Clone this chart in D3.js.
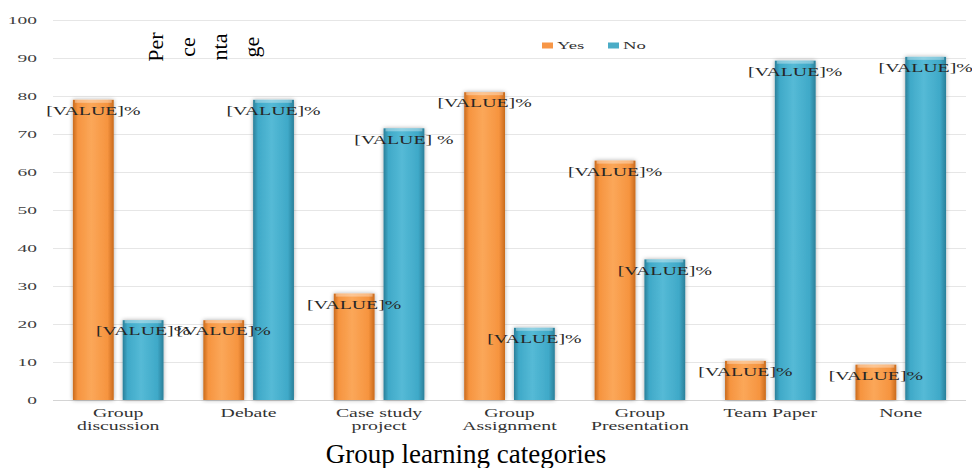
<!DOCTYPE html>
<html>
<head>
<meta charset="utf-8">
<script src="https://cdn.jsdelivr.net/npm/d3@7/dist/d3.min.js"></script>
<style>
  html, body { margin: 0; padding: 0; background: #ffffff; }
  svg { display: block; }
</style>
</head>
<body>
<svg id="chart" width="972" height="468" font-family="'Liberation Serif', 'Times New Roman', Times, serif"></svg>
<script>
// Survey responses by group learning category (percent)
const categories = ["Group discussion", "Debate", "Case study project", "Group Assignment",
                    "Group Presentation", "Team Paper", "None"];
const categoryLines = [["Group", "discussion"], ["Debate"], ["Case study", "project"],
                       ["Group", "Assignment"], ["Group", "Presentation"], ["Team Paper"], ["None"]];
const seriesNames = ["Yes", "No"];
const yesValues = [79, 21, 28, 81, 63, 10.3, 9.3];
const noValues  = [21, 79, 71.5, 19, 37, 89.3, 90.3];
const labelTexts = {
  Yes: ["[VALUE]%", "[VALUE]%", "[VALUE]%", "[VALUE]%", "[VALUE]%", "[VALUE]%", "[VALUE]%"],
  No:  ["[VALUE]%", "[VALUE]%", "[VALUE] %", "[VALUE]%", "[VALUE]%", "[VALUE]%", "[VALUE]%"]
};
const yTicks = [0, 10, 20, 30, 40, 50, 60, 70, 80, 90, 100];
const yTitleParts = ["Per", "ce", "nta", "ge"];
const xTitle = "Group learning categories";

const SERIF = "'Liberation Serif', 'Times New Roman', Times, serif";
const svg = d3.select("#chart");
const defs = svg.append("defs");

// Horizontal shading gives the bars their rounded, bevelled look
function barGradient(id, edge, mid, light) {
  const g = defs.append("linearGradient").attr("id", id)
    .attr("x1", "0%").attr("x2", "100%").attr("y1", "0%").attr("y2", "0%");
  g.append("stop").attr("offset", "0%").attr("stop-color", edge);
  g.append("stop").attr("offset", "12%").attr("stop-color", mid);
  g.append("stop").attr("offset", "45%").attr("stop-color", light);
  g.append("stop").attr("offset", "85%").attr("stop-color", mid);
  g.append("stop").attr("offset", "100%").attr("stop-color", edge);
}
barGradient("grad-Yes", "#c96a1c", "#f6943f", "#fba759");
barGradient("grad-No", "#2a7f99", "#3fa9c8", "#55bad6");
const shadow = defs.append("filter").attr("id", "barShadow")
  .attr("x", "-30%").attr("y", "-5%").attr("width", "160%").attr("height", "110%");
shadow.append("feDropShadow").attr("dx", 0).attr("dy", 0).attr("stdDeviation", 2.2)
  .attr("flood-color", "#000").attr("flood-opacity", 0.35);

const y = d3.scaleLinear().domain([0, 100]).range([400, 20]);
const x = d3.scaleBand().domain(categories).range([53, 966]).paddingInner(0).paddingOuter(0);
const xSub = d3.scaleBand().domain(seriesNames).range([0, x.bandwidth()])
  .paddingInner(0.18).paddingOuter(0.4);
const color = d3.scaleOrdinal().domain(seriesNames).range(["#f79646", "#4bacc6"]);

// Stretch a text element horizontally by factor k
function widen(sel, k) {
  sel.each(function () {
    const w = this.getComputedTextLength();
    d3.select(this).attr("textLength", w * k).attr("lengthAdjust", "spacingAndGlyphs");
  });
}

// Gridlines
svg.append("g").selectAll("line").data(yTicks.filter(d => d > 0)).join("line")
  .attr("x1", 53).attr("x2", 966)
  .attr("y1", d => y(d) + 0.5).attr("y2", d => y(d) + 0.5)
  .attr("stroke", "#e6e6e6").attr("stroke-width", 1);
svg.append("line").attr("x1", 53).attr("x2", 966)
  .attr("y1", y(0) + 0.5).attr("y2", y(0) + 0.5)
  .attr("stroke", "#d4d4d4").attr("stroke-width", 1);

// Y tick labels
const yLabels = svg.append("g").selectAll("text").data(yTicks).join("text")
  .attr("font-family", SERIF)
  .attr("x", 37).attr("y", d => y(d)).attr("dy", "0.35em")
  .attr("text-anchor", "end").attr("font-size", 10.5).attr("fill", "#404040")
  .text(d => d);
widen(yLabels, 1.85);

// Bars
const rows = categories.map((c, i) => ({ cat: c, i, Yes: yesValues[i], No: noValues[i] }));
const groups = svg.append("g").selectAll("g").data(rows).join("g")
  .attr("transform", d => `translate(${x(d.cat)},0)`);
const bars = groups.selectAll("g.bar")
  .data(d => seriesNames.map(s => ({ s, v: d[s], i: d.i })))
  .join("g").attr("class", "bar");
bars.append("rect")
  .attr("x", d => xSub(d.s)).attr("width", xSub.bandwidth())
  .attr("y", d => y(d.v)).attr("height", d => y(0) - y(d.v))
  .attr("fill", d => `url(#grad-${d.s})`)
  .attr("filter", "url(#barShadow)");
// light bevel along the top of each bar
bars.append("rect")
  .attr("x", d => xSub(d.s) + 2).attr("width", xSub.bandwidth() - 4)
  .attr("y", d => y(d.v)).attr("height", 3)
  .attr("fill", "#ffffff").attr("opacity", 0.35);

// Data labels
const labels = svg.append("g").selectAll("text")
  .data(rows.flatMap(r => seriesNames.map(s => ({ cat: r.cat, s, v: r[s], t: labelTexts[s][r.i] }))))
  .join("text")
  .attr("font-family", SERIF)
  .attr("x", d => x(d.cat) + xSub(d.s) + xSub.bandwidth() / 2)
  .attr("y", d => y(d.v) + 11).attr("dy", "0.35em")
  .attr("text-anchor", "middle").attr("font-size", 12).attr("fill", "#262626")
  .text(d => d.t);
widen(labels, 1.65);

// Category labels
const catLabels = svg.append("g").selectAll("text").data(categories).join("text")
  .attr("font-family", SERIF)
  .attr("x", d => x(d) + x.bandwidth() / 2)
  .attr("y", 413).attr("text-anchor", "middle")
  .attr("font-size", 11.5).attr("fill", "#333333");
catLabels.each(function (d, i) {
  const t = d3.select(this);
  categoryLines[i].forEach((line, j) => {
    t.append("tspan").attr("x", x(d) + x.bandwidth() / 2)
      .attr("y", 413 + j * 13).attr("dy", "0.35em").text(line);
  });
});
catLabels.selectAll("tspan").each(function () {
  const w = this.getComputedTextLength();
  d3.select(this).attr("textLength", w * 1.72).attr("lengthAdjust", "spacingAndGlyphs");
});

// Legend
const legend = svg.append("g");
seriesNames.forEach((s, i) => {
  const lx = 542 + i * 66;
  legend.append("rect").attr("x", lx).attr("y", 42.5).attr("width", 11).attr("height", 6)
    .attr("fill", color(s));
  const lt = legend.append("text").attr("font-family", SERIF)
    .attr("x", lx + 15).attr("y", 45.5).attr("dy", "0.35em")
    .attr("font-size", 11).attr("fill", "#333333").text(s);
  widen(lt, 1.7);
});

// Y-axis title, broken into rotated fragments
svg.append("g").selectAll("text").data(yTitleParts).join("text")
  .attr("font-family", SERIF)
  .attr("transform", (d, i) => `translate(${163 + i * 32},47) rotate(-90)`)
  .attr("text-anchor", "middle").attr("font-size", 22).attr("fill", "#000")
  .text(d => d);

// X-axis title
svg.append("text").attr("font-family", SERIF).attr("x", 466).attr("y", 463)
  .attr("text-anchor", "middle").attr("font-size", 27).attr("fill", "#000")
  .text(xTitle);
</script>
</body>
</html>
